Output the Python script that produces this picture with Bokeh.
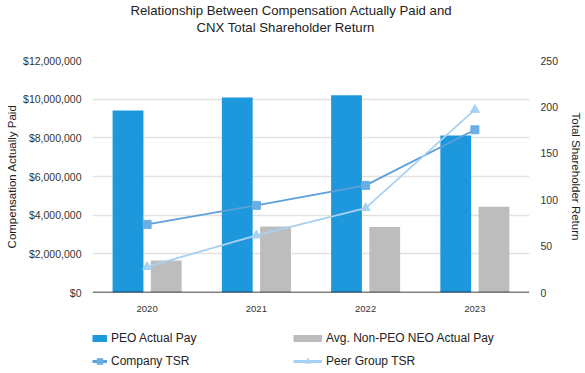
import math
from bokeh.plotting import figure
from bokeh.models import (ColumnDataSource, FactorRange, Range1d, LinearAxis, FixedTicker,
                          NumeralTickFormatter, Span, Legend, LegendItem, Title)
from bokeh.layouts import column
from bokeh.transform import dodge
from bokeh.embed import file_html
from bokeh.resources import INLINE

years = ["2020", "2021", "2022", "2023"]
peo_pay = [9410000, 10080000, 10200000, 8120000]
neo_pay = [1650000, 3420000, 3390000, 4440000]
company_tsr = [73.4, 93.9, 115.4, 175.3]
peer_tsr = [27.6, 61.6, 91.0, 197.0]
left_ticks = [0, 2000000, 4000000, 6000000, 8000000, 10000000, 12000000]
right_ticks = [0, 50, 100, 150, 200, 250]

FONT = "Liberation Sans"
C_PEO = "#1e98dc"
C_NEO = "#bdbdbd"
C_CO_LINE = "#5d9fd8"
C_CO_MARK = "#6aaee3"
C_PEER = "#a8d0f0"

src = ColumnDataSource(dict(year=years, peo=peo_pay, neo=neo_pay, co=company_tsr, peer=peer_tsr))

p = figure(width=585, height=318, x_range=FactorRange(*years, range_padding=0),
           y_range=Range1d(0, 12000000), output_backend="svg", toolbar_location=None,
           min_border_left=92, min_border_right=53, min_border_top=60, min_border_bottom=26)
p.outline_line_color = None
p.extra_y_ranges = {"tsr": Range1d(0, 250)}

p.vbar(x=dodge("year", -0.175, range=p.x_range), top="peo", width=0.282, source=src,
       fill_color=C_PEO, line_color=None)
p.vbar(x=dodge("year", 0.175, range=p.x_range), top="neo", width=0.282, source=src,
       fill_color=C_NEO, line_color=None)

p.line("year", "co", source=src, y_range_name="tsr", line_color=C_CO_LINE, line_width=1.8)
p.scatter("year", "co", source=src, y_range_name="tsr", marker="square", size=8,
          fill_color=C_CO_MARK, line_color=C_CO_MARK)
p.line("year", "peer", source=src, y_range_name="tsr", line_color=C_PEER, line_width=1.8)
p.scatter("year", "peer", source=src, y_range_name="tsr", marker="triangle", size=9,
          fill_color=C_PEER, line_color=C_PEER)

p.add_layout(Span(location=0, dimension="width", line_color="black", line_width=1.5))

# axes
p.yaxis.ticker = FixedTicker(ticks=left_ticks)
p.yaxis.formatter = NumeralTickFormatter(format="$0,0")
p.yaxis.axis_label = "Compensation Actually Paid"

right = LinearAxis(y_range_name="tsr", ticker=FixedTicker(ticks=right_ticks),
                   axis_label="Total Shareholder Return")
p.add_layout(right, "right")

for ax in [p.yaxis[0], right, p.xaxis[0]]:
    ax.axis_line_color = None
    ax.major_tick_line_color = None
    ax.minor_tick_line_color = None
    ax.major_tick_out = 0
    ax.major_tick_in = 0
    ax.minor_tick_out = 0
    ax.minor_tick_in = 0
    ax.major_label_text_font = FONT
    ax.major_label_text_color = "#333333"
    ax.axis_label_text_font = FONT
    ax.axis_label_text_font_size = "11.5px"
    ax.axis_label_text_font_style = "normal"
    ax.axis_label_text_color = "#222222"
p.yaxis[0].major_label_text_font_size = "10.5px"
right.major_label_text_font_size = "10.5px"
p.yaxis[0].major_label_standoff = 11
p.yaxis[0].axis_label_standoff = 2
right.major_label_standoff = 11
right.axis_label_standoff = 9

p.xaxis.major_label_text_font_size = "9.5px"
p.xaxis.major_label_standoff = 13

p.xgrid.grid_line_color = None
p.ygrid.grid_line_color = "#e2e2e2"
p.ygrid.grid_line_width = 1.5
p.ygrid.ticker = FixedTicker(ticks=left_ticks)

# titles (spacer, line 2, line 1 stacked upward)
title_kw = dict(text_font=FONT, text_font_size="13.2px", text_font_style="normal",
                text_color="#222222", align="left")
p.add_layout(Title(text=" ", standoff=9, **title_kw), "above")
p.add_layout(Title(text="CNX Total Shareholder Return", offset=104, standoff=0, **title_kw), "above")
p.add_layout(Title(text="Relationship Between Compensation Actually Paid and", offset=38,
                   standoff=0, **title_kw), "above")

# legend strip
leg = figure(width=585, height=55, output_backend="svg", toolbar_location=None,
             min_border=0, x_range=Range1d(0, 1), y_range=Range1d(0, 1))
leg.axis.visible = False
leg.grid.visible = False
leg.outline_line_color = None

sw = ColumnDataSource(dict(x=[math.nan], y=[math.nan]))
peo_sw = leg.line("x", "y", source=sw, line_color=C_PEO, line_width=7, line_cap="butt")
neo_sw = leg.line("x", "y", source=sw, line_color=C_NEO, line_width=7, line_cap="butt")
co_l = leg.line("x", "y", source=sw, line_color=C_CO_LINE, line_width=3)
co_m = leg.scatter("x", "y", source=sw, marker="square", size=8,
                   fill_color=C_CO_MARK, line_color=C_CO_MARK)
pe_l = leg.line("x", "y", source=sw, line_color=C_PEER, line_width=3)
pe_m = leg.scatter("x", "y", source=sw, marker="triangle", size=9,
                   fill_color=C_PEER, line_color=C_PEER)

def make_legend(items, x, gw):
    return Legend(items=items, location=(x, 5), orientation="vertical",
                  glyph_width=gw, glyph_height=14, label_height=14, spacing=9,
                  label_standoff=4, padding=0, margin=0, border_line_color=None,
                  background_fill_alpha=0, label_text_font=FONT, label_text_font_size="12px",
                  label_text_color="#222222")

lg1 = make_legend([LegendItem(label="PEO Actual Pay", renderers=[peo_sw]),
                   LegendItem(label="Company TSR", renderers=[co_l, co_m])], 0, 15)
lg2 = make_legend([LegendItem(label="Avg. Non-PEO NEO Actual Pay", renderers=[neo_sw]),
                   LegendItem(label="Peer Group TSR", renderers=[pe_l, pe_m])], 201, 29)
leg.add_layout(lg1, "center")
leg.add_layout(lg2, "center")

layout = column(p, leg, spacing=0)
open("out.html", "w").write(file_html(layout, INLINE))
